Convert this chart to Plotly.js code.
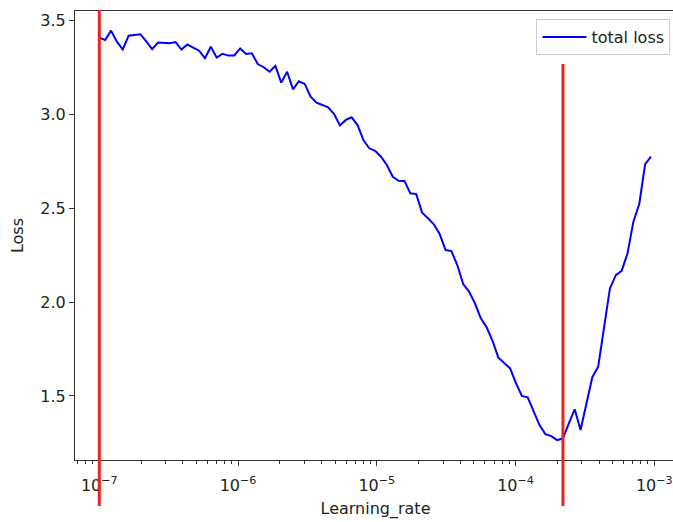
<!DOCTYPE html>
<html>
<head>
<meta charset="utf-8">
<script src="https://cdn.plot.ly/plotly-3.0.1.min.js"></script>
<style>
  html, body { margin: 0; padding: 0; overflow: hidden; background: #fff; }
  #chart { width: 676px; height: 522px; }
</style>
</head>
<body>
<div id="chart"></div>
<script>
// Learning rates (x)
const learningRate = [
  1.000e-7, 1.102e-7, 1.215e-7, 1.339e-7, 1.476e-7, 1.627e-7, 1.794e-7, 1.978e-7, 2.180e-7, 2.403e-7, 2.649e-7, 2.920e-7,
  3.219e-7, 3.548e-7, 3.911e-7, 4.311e-7, 4.752e-7, 5.238e-7, 5.774e-7, 6.364e-7, 7.015e-7, 7.733e-7, 8.524e-7, 9.395e-7,
  1.036e-6, 1.142e-6, 1.258e-6, 1.387e-6, 1.529e-6, 1.686e-6, 1.858e-6, 2.048e-6, 2.258e-6, 2.489e-6, 2.743e-6, 3.024e-6,
  3.333e-6, 3.674e-6, 4.050e-6, 4.464e-6, 4.920e-6, 5.424e-6, 5.979e-6, 6.590e-6, 7.264e-6, 8.007e-6, 8.826e-6, 9.730e-6,
  1.072e-5, 1.182e-5, 1.303e-5, 1.436e-5, 1.583e-5, 1.745e-5, 1.924e-5, 2.121e-5, 2.338e-5, 2.577e-5, 2.840e-5, 3.131e-5,
  3.451e-5, 3.804e-5, 4.194e-5, 4.623e-5, 5.095e-5, 5.617e-5, 6.191e-5, 6.825e-5, 7.523e-5, 8.293e-5, 9.141e-5,
  1.008e-4, 1.111e-4, 1.224e-4, 1.350e-4, 1.488e-4, 1.640e-4, 1.807e-4, 1.993e-4, 2.196e-4, 2.421e-4, 2.669e-4, 2.942e-4,
  3.243e-4, 3.575e-4, 3.941e-4, 4.344e-4, 4.788e-4, 5.278e-4, 5.818e-4, 6.412e-4, 7.068e-4, 7.791e-4, 8.589e-4, 9.467e-4
];

// Total loss values (y)
const totalLoss = [
  3.410, 3.397, 3.447, 3.388, 3.347, 3.420, 3.424, 3.428, 3.390, 3.348, 3.384, 3.383, 3.380, 3.386, 3.346, 3.373,
  3.358, 3.340, 3.300, 3.361, 3.303, 3.324, 3.314, 3.315, 3.352, 3.323, 3.326,
  3.269, 3.252, 3.228, 3.259, 3.170, 3.228, 3.134, 3.177, 3.163, 3.095, 3.063, 3.051, 3.038, 3.003, 2.942, 2.971,
  2.985, 2.944, 2.864, 2.820, 2.807, 2.775, 2.731, 2.668,
  2.647, 2.646, 2.580, 2.576, 2.477, 2.447, 2.415, 2.363, 2.278, 2.272, 2.198, 2.096, 2.056, 1.994,
  1.914, 1.866, 1.794, 1.704, 1.674, 1.647, 1.567, 1.500, 1.493, 1.416, 1.345, 1.297, 1.286, 1.265,
  1.274, 1.354, 1.429, 1.319, 1.461, 1.600, 1.656, 1.869, 2.073, 2.144, 2.167, 2.260, 2.429, 2.523, 2.736, 2.775
];

// Vertical marker lines (learning rates)
const markerLr = [1e-7, 2.196e-4];

// Tick labels
const xTickVals = [1e-7, 1e-6, 1e-5, 1e-4, 1e-3];
const xTickText = ['10<sup>−7</sup>', '10<sup>−6</sup>', '10<sup>−5</sup>', '10<sup>−4</sup>', '10<sup>−3</sup>'];
const xMinorVals = [
  7e-8, 8e-8, 9e-8,
  2e-7, 3e-7, 4e-7, 5e-7, 6e-7, 7e-7, 8e-7, 9e-7,
  2e-6, 3e-6, 4e-6, 5e-6, 6e-6, 7e-6, 8e-6, 9e-6,
  2e-5, 3e-5, 4e-5, 5e-5, 6e-5, 7e-5, 8e-5, 9e-5,
  2e-4, 3e-4, 4e-4, 5e-4, 6e-4, 7e-4, 8e-4, 9e-4
];
const yTickVals = [1.5, 2.0, 2.5, 3.0, 3.5];
const yTickText = ['1.5', '2.0', '2.5', '3.0', '3.5'];

const FONT = 'DejaVu Sans, sans-serif';
const AXIS_COLOR = '#333333';
const TEXT_COLOR = '#222222';

const traces = [{
  x: learningRate,
  y: totalLoss,
  type: 'scatter',
  mode: 'lines',
  name: 'total loss',
  line: { color: '#0000ff', width: 2 },
  hoverinfo: 'skip'
}];

const markerTops = [1.002, 0.882];
const shapes = markerLr.map((v, i) => ({
  type: 'line',
  xref: 'x', yref: 'paper',
  x0: v, x1: v,
  y0: -0.1024, y1: markerTops[i],
  line: { color: '#ee2222', width: 3 },
  layer: 'above'
}));

const layout = {
  width: 676,
  height: 522,
  margin: { l: 75, r: 0, t: 11, b: 62 },
  paper_bgcolor: '#ffffff',
  plot_bgcolor: '#ffffff',
  font: { family: FONT, size: 16, color: TEXT_COLOR },
  showlegend: true,
  legend: {
    x: 0.9908, xanchor: 'right',
    y: 0.982, yanchor: 'top',
    itemwidth: 44,
    bgcolor: 'rgba(255,255,255,0.8)',
    bordercolor: '#cccccc',
    borderwidth: 1,
    font: { family: FONT, size: 16, color: TEXT_COLOR }
  },
  xaxis: {
    type: 'log',
    range: [-7.1751, -2.8436],
    tickmode: 'array',
    tickvals: xTickVals,
    ticktext: xTickText,
    ticks: 'outside',
    ticklen: 5,
    tickwidth: 1,
    tickcolor: AXIS_COLOR,
    ticklabelstandoff: 6,
    showline: true,
    linecolor: AXIS_COLOR,
    linewidth: 1,
    mirror: true,
    showgrid: false,
    zeroline: false,
    tickfont: { family: FONT, size: 16, color: TEXT_COLOR },
    minor: {
      tickmode: 'array',
      tickvals: xMinorVals,
      ticks: 'outside',
      ticklen: 3,
      tickwidth: 1,
      tickcolor: AXIS_COLOR,
      showgrid: false
    },
    title: { text: 'Learning_rate', font: { family: FONT, size: 16, color: TEXT_COLOR }, standoff: 8 }
  },
  yaxis: {
    range: [1.1588, 3.5517],
    tickmode: 'array',
    tickvals: yTickVals,
    ticktext: yTickText,
    ticks: 'outside',
    ticklen: 5,
    tickwidth: 1,
    tickcolor: AXIS_COLOR,
    showline: true,
    linecolor: AXIS_COLOR,
    linewidth: 1,
    mirror: false,
    showgrid: false,
    zeroline: false,
    tickfont: { family: FONT, size: 16, color: TEXT_COLOR },
    title: { text: 'Loss', font: { family: FONT, size: 16, color: TEXT_COLOR }, standoff: 12 }
  },
  shapes: shapes
};

Plotly.newPlot('chart', traces, layout, { displayModeBar: false, staticPlot: true });
</script>
</body>
</html>
